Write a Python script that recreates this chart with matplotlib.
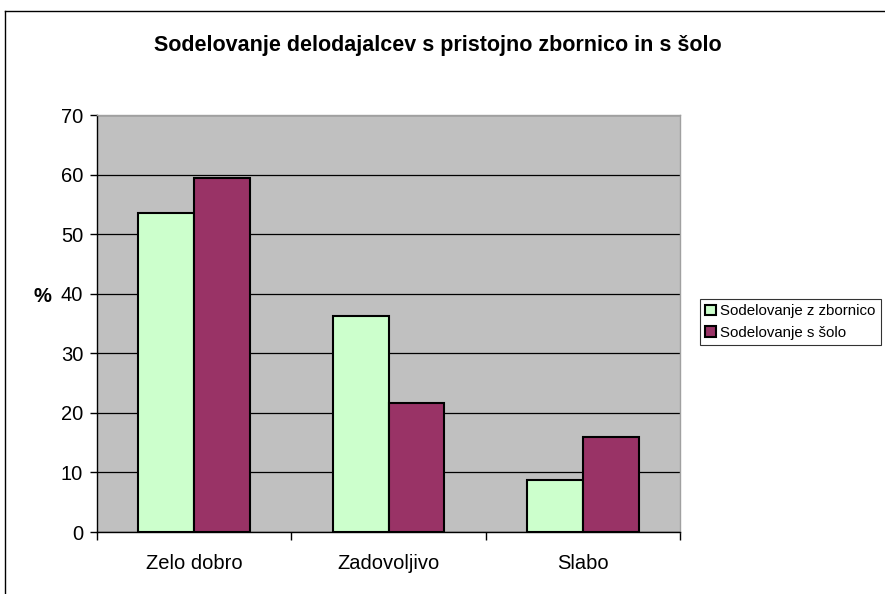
import numpy as np
import matplotlib.pyplot as plt
from matplotlib.lines import Line2D

categories = ['Zelo dobro', 'Zadovoljivo', 'Slabo']
zbornica = [53.6, 36.2, 8.7]
sola = [59.4, 21.7, 15.9]
series_names = ['Sodelovanje z zbornico', 'Sodelovanje s šolo']
yticks = [0, 10, 20, 30, 40, 50, 60, 70]

plt.rcParams['font.family'] = ['Liberation Sans', 'DejaVu Sans']

fig = plt.figure(figsize=(8.85, 5.94), dpi=100)
ax = fig.add_axes([97 / 885, 62 / 594, 583 / 885, 417 / 594])
ax.set_facecolor('#C0C0C0')

x = np.arange(len(categories))
w = 0.288
ax.bar(x - w / 2, zbornica, w, color='#CCFFCC', edgecolor='black', linewidth=1.5,
       label=series_names[0], zorder=3)
ax.bar(x + w / 2, sola, w, color='#993366', edgecolor='black', linewidth=1.5,
       label=series_names[1], zorder=3)

ax.set_xlim(-0.5, len(categories) - 0.5)
ax.set_ylim(0, 70)
ax.set_yticks(yticks)
ax.tick_params(axis='y', labelsize=14.5, length=5, width=1, direction='out', pad=5)
ax.yaxis.grid(True, color='black', linewidth=0.9, zorder=1)
ax.set_axisbelow(True)

ax.set_xticks(x)
ax.set_xticklabels(categories, fontsize=14.5)
ax.tick_params(axis='x', length=0, pad=16)
ax.set_xticks(np.arange(-0.5, len(categories)), minor=True)
ax.tick_params(axis='x', which='minor', length=6, width=1, direction='out')

for s in ['left', 'bottom']:
    ax.spines[s].set_color('black')
    ax.spines[s].set_linewidth(1.0)
for s in ['top', 'right']:
    ax.spines[s].set_color('#A0A0A0')
    ax.spines[s].set_linewidth(1.0)

fig.text(42 / 885, 1 - 297 / 594, '%', fontsize=14.5, fontweight='bold',
         ha='center', va='center')
fig.text(438 / 885, 1 - 45 / 594, 'Sodelovanje delodajalcev s pristojno zbornico in s šolo',
         fontsize=15.5, fontweight='bold', ha='center', va='center')

# chart area border (cropped on right and bottom)
fig.add_artist(Line2D([5 / 885, 5 / 885], [0, 1 - 11 / 594], color='black', lw=1.0))
fig.add_artist(Line2D([5 / 885, 1], [1 - 11 / 594, 1 - 11 / 594], color='black', lw=1.0))

leg = fig.legend(loc='center left', bbox_to_anchor=(700 / 885, 1 - 322 / 594),
                 fontsize=10.8, frameon=True, fancybox=False, edgecolor='black',
                 handlelength=0.7, handleheight=0.7, handletextpad=0.3,
                 borderpad=0.35, labelspacing=0.5, borderaxespad=0)
leg.get_frame().set_linewidth(0.8)

fig.savefig('out.png', dpi=100)
